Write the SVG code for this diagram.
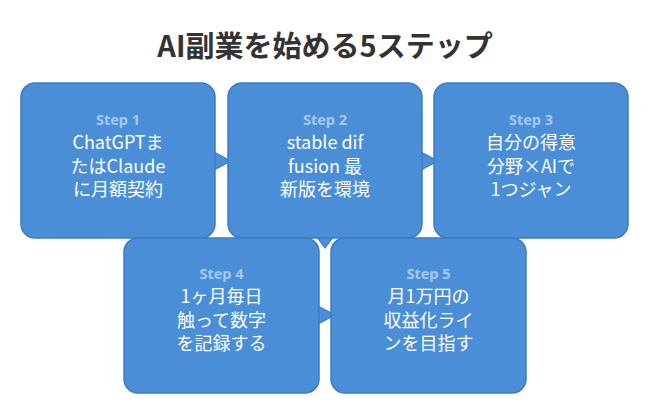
<svg xmlns="http://www.w3.org/2000/svg" width="650" height="415" viewBox="0 0 650 415">
<style>
.box{fill:#4a8ed8;stroke:#3c7bc6;stroke-width:1.5}
.tail{fill:#4a8ed8;stroke:#3c7bc6;stroke-width:1.2;stroke-linejoin:round}
.step{font-family:"Noto Sans","Noto Sans CJK JP",sans-serif;font-weight:bold;font-size:14.5px;fill:#a6c8ef;text-anchor:middle}
.txt{font-family:"Noto Sans CJK JP","Noto Sans",sans-serif;font-size:18px;fill:#ffffff;text-anchor:middle}
.title{font-family:"Noto Sans CJK JP",sans-serif;font-weight:bold;font-size:29px;fill:#333333;text-anchor:middle}
</style>
<rect width="650" height="415" fill="#ffffff"/>
<text class="title" x="325" y="57">AI副業を始める5ステップ</text>
<g id="connectors">
<polygon class="tail" points="214,152 231,161 214,170"/>
<polygon class="tail" points="421,152 438,161 421,170"/>
<polygon class="tail" points="316,236 334,236 325,248"/>
<polygon class="tail" points="318,306 335,315 318,324"/>
</g>
<g id="step1">
<rect class="box" x="21" y="83" width="194" height="155" rx="14"/>
<text class="step" x="118" y="125">Step 1</text>
<text class="txt" x="118" y="149">ChatGPTま</text>
<text class="txt" x="118" y="172.5">たはClaude</text>
<text class="txt" x="118" y="196">に月額契約</text>
</g>
<g id="step2">
<rect class="box" x="228" y="83" width="194" height="155" rx="14"/>
<text class="step" x="325" y="125">Step 2</text>
<text class="txt" x="325" y="149">stable dif</text>
<text class="txt" x="325" y="172.5">fusion 最</text>
<text class="txt" x="325" y="196">新版を環境</text>
</g>
<g id="step3">
<rect class="box" x="434" y="83" width="194" height="155" rx="14"/>
<text class="step" x="531" y="125">Step 3</text>
<text class="txt" x="531" y="149">自分の得意</text>
<text class="txt" x="531" y="172.5">分野×AIで</text>
<text class="txt" x="531" y="196">1つジャン</text>
</g>
<g id="step4">
<rect class="box" x="124" y="238" width="195" height="155" rx="14"/>
<text class="step" x="221.5" y="279">Step 4</text>
<text class="txt" x="221.5" y="303">1ヶ月毎日</text>
<text class="txt" x="221.5" y="326.5">触って数字</text>
<text class="txt" x="221.5" y="350">を記録する</text>
</g>
<g id="step5">
<rect class="box" x="331" y="238" width="195" height="155" rx="14"/>
<text class="step" x="428.5" y="279">Step 5</text>
<text class="txt" x="428.5" y="303">月1万円の</text>
<text class="txt" x="428.5" y="326.5">収益化ライ</text>
<text class="txt" x="428.5" y="350">ンを目指す</text>
</g>
</svg>
